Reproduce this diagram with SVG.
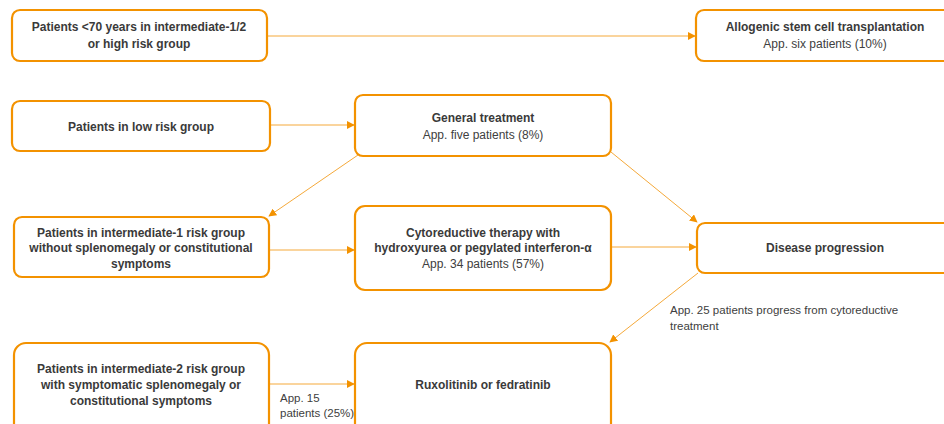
<svg xmlns="http://www.w3.org/2000/svg" width="944" height="424" viewBox="0 0 944 424">
<style>
.box{fill:#fff;stroke:#F39200;stroke-width:2.2}
.b{font-family:"Liberation Sans",Arial,sans-serif;font-size:12px;font-weight:bold;fill:#3a3a3a;text-anchor:middle}
.n{font-family:"Liberation Sans",Arial,sans-serif;font-size:12px;fill:#404040;text-anchor:middle}
.l{font-family:"Liberation Sans",Arial,sans-serif;font-size:11.5px;fill:#404040}
.c{stroke:#F5A93A;stroke-width:1;fill:none;marker-end:url(#ah)}
</style>
<defs>
<marker id="ah" viewBox="0 0 10 10" refX="9" refY="5" markerWidth="8" markerHeight="8" markerUnits="userSpaceOnUse" orient="auto">
<path d="M0,0 L10,5 L0,10 z" fill="#F39200"/>
</marker>
</defs>
<rect width="944" height="424" fill="#fff"/>
<g id="connectors">
<line class="c" x1="267" y1="36" x2="695" y2="36"/>
<line class="c" x1="270" y1="125" x2="354" y2="125"/>
<line class="c" x1="358" y1="155" x2="269" y2="216"/>
<line class="c" x1="611" y1="152" x2="697" y2="222"/>
<line class="c" x1="611" y1="247" x2="696" y2="247"/>
<line class="c" x1="269" y1="250" x2="354" y2="250"/>
<line class="c" x1="698" y1="273" x2="610" y2="342"/>
<line class="c" x1="269" y1="384" x2="354" y2="384"/>
</g>
<g id="n1"><rect class="box" x="12" y="10" width="255" height="51" rx="8"/>
<text class="b" x="139" y="31">Patients &lt;70 years in intermediate-1/2</text>
<text class="b" x="139" y="48">or high risk group</text></g>
<g id="n2"><rect class="box" x="696" y="10" width="258" height="51" rx="8"/>
<text class="b" x="825" y="31">Allogenic stem cell transplantation</text>
<text class="n" x="825" y="48">App. six patients (10%)</text></g>
<g id="n3"><rect class="box" x="12" y="101" width="258" height="50" rx="8"/>
<text class="b" x="141" y="131">Patients in low risk group</text></g>
<g id="n4"><rect class="box" x="355" y="95" width="256" height="61" rx="8"/>
<text class="b" x="483" y="122">General treatment</text>
<text class="n" x="483" y="139">App. five patients (8%)</text></g>
<g id="n5"><rect class="box" x="14" y="217" width="255" height="60" rx="8"/>
<text class="b" x="141" y="237">Patients in intermediate-1 risk group</text>
<text class="b" x="141" y="252">without splenomegaly or constitutional</text>
<text class="b" x="141" y="268">symptoms</text></g>
<g id="n6"><rect class="box" x="355" y="206" width="256" height="84" rx="10"/>
<text class="b" x="483" y="237">Cytoreductive therapy with</text>
<text class="b" x="483" y="252">hydroxyurea or pegylated interferon-α</text>
<text class="n" x="483" y="268">App. 34 patients (57%)</text></g>
<g id="n7"><rect class="box" x="697" y="223" width="257" height="50" rx="8"/>
<text class="b" x="825" y="252">Disease progression</text></g>
<g id="n8"><rect class="box" x="14" y="343" width="255" height="100" rx="12"/>
<text class="b" x="141" y="373">Patients in intermediate-2 risk group</text>
<text class="b" x="141" y="389">with symptomatic splenomegaly or</text>
<text class="b" x="141" y="405">constitutional symptoms</text></g>
<g id="n9"><rect class="box" x="355" y="343" width="256" height="100" rx="12"/>
<text class="b" x="483" y="389">Ruxolitinib or fedratinib</text></g>
<text class="l" x="280" y="402">App. 15</text>
<text class="l" x="280" y="417">patients (25%)</text>
<text class="l" x="670" y="314">App. 25 patients progress from cytoreductive</text>
<text class="l" x="670" y="330">treatment</text>
</svg>
